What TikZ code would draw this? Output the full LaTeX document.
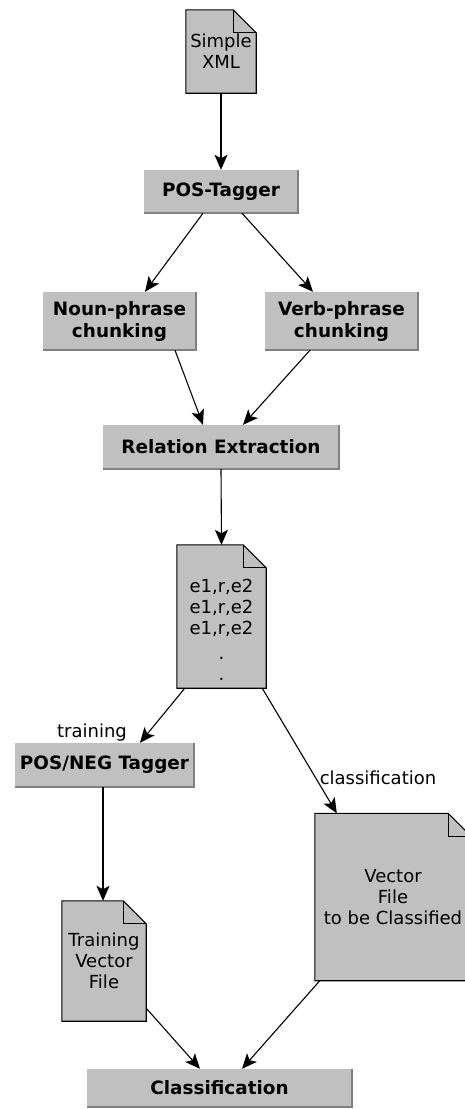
\documentclass[tikz,border=0pt]{standalone}
\usepackage{fontspec}
\setmainfont{DejaVu Sans}
\usetikzlibrary{arrows.meta,calc}
\pgfdeclarelayer{background}
\pgfsetlayers{background,main}

\definecolor{boxfill}{HTML}{C0C0C0}
\definecolor{boxedge}{HTML}{808080}

\tikzset{
  txt/.style={font=\fontsize{18}{21}\selectfont, align=center, inner sep=0pt},
  procbox/.style={txt, font=\fontsize{18.4}{22}\selectfont\bfseries, fill=boxfill, rectangle},
  docnode/.style={txt, rectangle},
  flow/.style={line width=1.1pt, -{Stealth[length=15pt,width=13pt,inset=3.5pt]}},
  docline/.style={line width=1.1pt, line join=miter},
  edgeline/.style={boxedge, line width=1.6pt},
}

% right and bottom shading edge of a process box
\newcommand\boxshade[1]{%
  \draw[edgeline] (#1.north east) -- (#1.south east) -- (#1.south west);}

% dog-eared document outline behind a document node
\newcommand\docshape[1]{%
  \begin{pgfonlayer}{background}
  \fill[boxfill] (#1.north west) -- ($(#1.north east)+(-23,0)$) -- ($(#1.north east)+(0,23)$)
        -- (#1.south east) -- (#1.south west) -- cycle;
  \draw[docline] (#1.north west) -- ($(#1.north east)+(-23,0)$) -- ($(#1.north east)+(0,23)$)
        -- (#1.south east) -- (#1.south west) -- cycle;
  \draw[docline] ($(#1.north east)+(-23,0)$) -- ($(#1.north east)+(-23,23)$) -- ($(#1.north east)+(0,23)$);
  \end{pgfonlayer}}

\begin{document}
\begin{tikzpicture}[x=1pt,y=-1pt]
\path[use as bounding box, clip] (0,0) rectangle (464,1109);
\begin{pgfonlayer}{background}
\fill[white] (0,0) rectangle (464,1109);
\end{pgfonlayer}

% documents
\node[docnode, minimum width=70pt, minimum height=83pt] (xml) at (221,51.5) {Simple\\XML};
\docshape{xml}
\node[docnode, minimum width=89pt, minimum height=143pt] (rel) at (221.5,616.5)
  {\rule{0pt}{40pt}e1,r,e2\\e1,r,e2\\e1,r,e2\\[4pt].\\.};
\docshape{rel}
\node[docnode, minimum width=84pt, minimum height=120pt] (train) at (104,961) {Training\\Vector\\File};
\docshape{train}
\node[docnode, minimum width=156pt, minimum height=167pt] (vec) at (393,897) {Vector\\File\\to be Classified};
\docshape{vec}

% processing steps
\node[procbox, minimum width=154pt, minimum height=43pt] (pos) at (221,191.5) {POS-Tagger};
\boxshade{pos}
\node[procbox, minimum width=153pt, minimum height=58pt] (noun) at (119.5,321) {Noun-phrase\\chunking};
\boxshade{noun}
\node[procbox, minimum width=153pt, minimum height=58pt] (verb) at (341.5,321) {Verb-phrase\\chunking};
\boxshade{verb}
\node[procbox, minimum width=236pt, minimum height=44pt] (rex) at (221,447) {Relation Extraction};
\boxshade{rex}
\node[procbox, minimum width=179pt, minimum height=44pt] (pneg) at (104.5,765) {POS/NEG Tagger};
\boxshade{pneg}
\node[procbox, minimum width=265pt, minimum height=38pt] (cls) at (219.5,1088) {Classification};
\boxshade{cls}

% edge labels
\node[txt] (ltrain) at (92,733) {training};
\node[txt] (lcls) at (378,778) {classification};

% connectors
\draw[flow] (xml.south) -- (pos.north);
\draw[flow] ($(pos.south)+(-18,0)$) -- ($(noun.north)+(25.5,0)$);
\draw[flow] ($(pos.south)+(21,0)$) -- ($(verb.north)+(-28.5,0)$);
\draw[flow] ($(noun.south)+(55.5,0)$) -- ($(rex.north)+(-18,0)$);
\draw[flow] ($(verb.south)+(-31.5,0)$) -- ($(rex.north)+(22,0)$);
\draw[flow] (rex.south) -- (rel.north);
\draw[flow] ($(rel.south west)+(8,0)$) -- ($(pneg.north)+(35.5,0)$);
\draw[flow] ($(rel.south east)+(-4,0)$) -- ($(vec.north west)+(22,0)$);
\draw[flow] ($(pneg.south)+(-1.5,0)$) -- ($(train.north)+(-1,0)$);
\draw[flow] ($(train.south east)+(0,-13)$) -- ($(cls.north)+(-19.5,0)$);
\draw[flow] ($(vec.south west)+(5,0)$) -- ($(cls.north)+(22.5,0)$);
\end{tikzpicture}
\end{document}
